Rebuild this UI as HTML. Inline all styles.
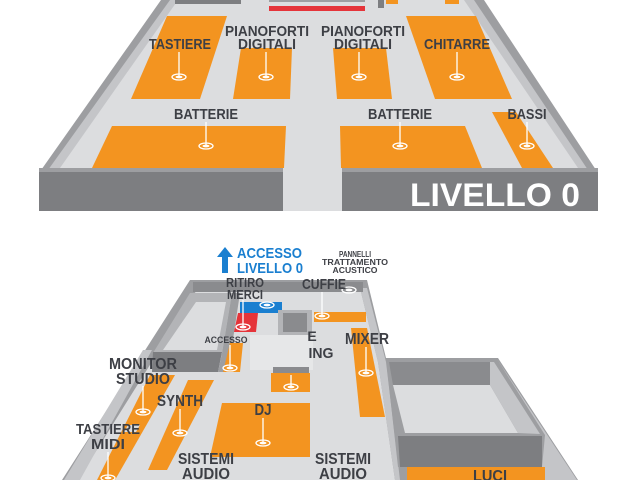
<!DOCTYPE html>
<html><head><meta charset="utf-8"><style>
html,body{margin:0;padding:0;background:#fff;width:640px;height:480px;overflow:hidden}
text{font-family:"Liberation Sans Narrow","Liberation Sans",sans-serif;font-weight:bold}
</style></head><body>
<svg width="640" height="480" viewBox="0 0 640 480" xmlns="http://www.w3.org/2000/svg">
<defs>
<g id="pin"><ellipse cx="0" cy="0" rx="7" ry="3" fill="none" stroke="#fff" stroke-width="1.3"/><ellipse cx="0" cy="0" rx="3.5" ry="1.4" fill="#fff"/></g>
</defs>
<!-- ===== LEVEL 0 (top) ===== -->
<polygon points="161,0 484,0 598,173 39,173" fill="#9d9ea1"/>
<polygon points="170,0 474,0 588,170 48,170" fill="#c4c5c8"/>
<polygon points="178,0 464,0 578,168 60,168" fill="#dcdddf"/>
<rect x="39" y="170" width="244" height="41" fill="#7d7e81"/>
<rect x="342" y="170" width="256" height="41" fill="#7d7e81"/>
<rect x="39" y="168" width="244" height="4" fill="#9d9ea1"/>
<rect x="342" y="168" width="256" height="4" fill="#9d9ea1"/>
<rect x="283" y="168" width="59" height="43" fill="#dcdddf"/>
<rect x="175" y="0" width="66" height="4" fill="#7d7e81"/>
<rect x="269" y="0" width="96" height="2" fill="#9d9ea1"/>
<rect x="269" y="6" width="96" height="5" fill="#e5343a"/>
<rect x="378" y="0" width="6" height="8" fill="#7d7e81"/>
<rect x="386" y="0" width="12" height="4" fill="#f39420"/>
<rect x="445" y="0" width="14" height="4" fill="#f39420"/>
<g fill="#f39420">
<polygon points="167,16 227,16 200,99 131,99"/>
<polygon points="241,48 292,48 290,99 233,99"/>
<polygon points="333,48 386,48 392,99 337,99"/>
<polygon points="406,16 476,16 512,99 435,99"/>
<polygon points="112,126 286,126 284,168 92,168"/>
<polygon points="340,126 465,126 482,168 341,168"/>
<polygon points="492,112 516,112 553,168 522,168"/>
</g>
<g stroke="#fff" stroke-width="1.3">
<line x1="179" y1="52" x2="179" y2="77"/><line x1="266" y1="52" x2="266" y2="77"/>
<line x1="359" y1="52" x2="359" y2="77"/><line x1="457" y1="52" x2="457" y2="77"/>
<line x1="206" y1="122" x2="206" y2="146"/><line x1="400" y1="122" x2="400" y2="146"/>
<line x1="527" y1="122" x2="527" y2="146"/>
</g>
<use href="#pin" x="179" y="77"/><use href="#pin" x="266" y="77"/><use href="#pin" x="359" y="77"/><use href="#pin" x="457" y="77"/>
<use href="#pin" x="206" y="146"/><use href="#pin" x="400" y="146"/><use href="#pin" x="527" y="146"/>
<g fill="#3d3f45" font-size="15" text-anchor="middle">
<text x="180" y="49" textLength="62" lengthAdjust="spacingAndGlyphs">TASTIERE</text>
<text x="267" y="36" textLength="84" lengthAdjust="spacingAndGlyphs">PIANOFORTI</text>
<text x="267" y="49" textLength="58" lengthAdjust="spacingAndGlyphs">DIGITALI</text>
<text x="363" y="36" textLength="84" lengthAdjust="spacingAndGlyphs">PIANOFORTI</text>
<text x="363" y="49" textLength="58" lengthAdjust="spacingAndGlyphs">DIGITALI</text>
<text x="457" y="49" textLength="66" lengthAdjust="spacingAndGlyphs">CHITARRE</text>
<text x="206" y="119" textLength="64" lengthAdjust="spacingAndGlyphs">BATTERIE</text>
<text x="400" y="119" textLength="64" lengthAdjust="spacingAndGlyphs">BATTERIE</text>
<text x="527" y="119" textLength="39" lengthAdjust="spacingAndGlyphs">BASSI</text>
</g>
<text x="410" y="206" font-size="32" fill="#fff" textLength="170" lengthAdjust="spacingAndGlyphs">LIVELLO 0</text>

<!-- ===== LEVEL -1 (bottom) ===== -->
<polygon points="190,280 367,280 386,358 498,358 578,480 62,480" fill="#9d9ea1"/>
<polygon points="198,288 360,288 378,362 395,480 78,480" fill="#dcdddf"/>
<polygon points="360,288 367,288 386,362 400,480 395,480 378,362" fill="#c4c5c8"/>
<polygon points="143,350 152,350 80,480 64,480" fill="#c4c5c8"/>
<polygon points="497,359 577,480 542,480 542,436" fill="#c4c5c8"/>
<rect x="193" y="282" width="170" height="10" fill="#8a8b8e"/>
<!-- left room -->
<polygon points="190,293 232,293 222,353 153,353" fill="#b3b4b7"/>
<polygon points="196,302 226,302 217,350 163,350" fill="#dcdddf"/>
<polygon points="153,352 222,352 218,372 152,372" fill="#7d7e81"/>
<polygon points="232,293 240,293 228,372 218,372 222,353" fill="#9d9ea1"/>
<!-- blue / red -->
<rect x="240" y="302" width="42" height="11" fill="#1a7fd0"/>
<polygon points="238,313 258,313 256,332 234,332" fill="#e5343a"/>
<!-- middle box -->
<rect x="278" y="310" width="34" height="27" fill="#b3b4b7"/>
<rect x="283" y="313" width="24" height="19" fill="#8a8b8e"/>
<rect x="314" y="312" width="52" height="10" fill="#f39420"/>
<rect x="250" y="335" width="63" height="35" fill="#e6e7e8"/>
<rect x="273" y="367" width="36" height="6" fill="#8a8b8e"/>
<g fill="#f39420">
<polygon points="230,343 243,343 240,372 223,372"/>
<rect x="271" y="373" width="39" height="19"/>
<polygon points="351,328 367,328 385,417 360,417"/>
<polygon points="150,375 175,375 115,480 97,480"/>
<polygon points="188,380 214,380 167,470 148,470"/>
<polygon points="222,403 310,403 310,457 210,457"/>
<rect x="407" y="467" width="138" height="13"/>
</g>
<polygon points="128,425 140,425 136,432 124,432" fill="#dcdddf"/>
<!-- annex box -->
<polygon points="386,359 497,359 545,435 542,467 398,467" fill="#9d9ea1"/>
<polygon points="389,362 490,362 490,385 393,385" fill="#8a8b8e"/>
<polygon points="393,385 490,385 518,433 405,433" fill="#dcdddf"/>
<polygon points="490,362 494,362 540,434 518,433 490,385" fill="#c4c5c8"/>
<polygon points="398,436 542,436 542,467 400,467" fill="#7d7e81"/>
<!-- pins -->
<g stroke="#fff" stroke-width="1.3">
<line x1="322" y1="292" x2="322" y2="316"/><line x1="243" y1="300" x2="243" y2="327"/>
<line x1="230" y1="345" x2="230" y2="368"/><line x1="291" y1="375" x2="291" y2="387"/>
<line x1="366" y1="347" x2="366" y2="373"/><line x1="143" y1="386" x2="143" y2="412"/>
<line x1="180" y1="409" x2="180" y2="433"/><line x1="263" y1="418" x2="263" y2="443"/>
<line x1="108" y1="452" x2="108" y2="478"/>
</g>
<use href="#pin" x="322" y="316"/><use href="#pin" x="267" y="305"/><use href="#pin" x="243" y="327"/>
<use href="#pin" x="349" y="290"/><use href="#pin" x="230" y="368"/><use href="#pin" x="291" y="387"/>
<use href="#pin" x="366" y="373"/><use href="#pin" x="143" y="412"/><use href="#pin" x="180" y="433"/>
<use href="#pin" x="263" y="443"/><use href="#pin" x="108" y="478"/>
<polygon points="225,247 233,257 228,257 228,273 222,273 222,257 217,257" fill="#1a7fd0"/>
<g fill="#1a7fd0" font-size="15">
<text x="237" y="258" textLength="65" lengthAdjust="spacingAndGlyphs">ACCESSO</text>
<text x="237" y="273" textLength="66" lengthAdjust="spacingAndGlyphs">LIVELLO 0</text>
</g>
<g fill="#3d3f45" font-size="8" text-anchor="middle">
<text x="355" y="257" textLength="32" lengthAdjust="spacingAndGlyphs">PANNELLI</text>
<text x="355" y="265" textLength="66" lengthAdjust="spacingAndGlyphs">TRATTAMENTO</text>
<text x="355" y="273" textLength="45" lengthAdjust="spacingAndGlyphs">ACUSTICO</text>
</g>
<g fill="#3d3f45" text-anchor="middle">
<text x="245" y="287" font-size="13" textLength="38" lengthAdjust="spacingAndGlyphs">RITIRO</text>
<text x="245" y="299" font-size="13" textLength="36" lengthAdjust="spacingAndGlyphs">MERCI</text>
<text x="324" y="289" font-size="15" textLength="44" lengthAdjust="spacingAndGlyphs">CUFFIE</text>
<text x="226" y="343" font-size="9" textLength="43" lengthAdjust="spacingAndGlyphs">ACCESSO</text>
<text x="312" y="341" font-size="14">E</text>
<text x="321" y="358" font-size="15" textLength="25" lengthAdjust="spacingAndGlyphs">ING</text>
<text x="367" y="344" font-size="16" textLength="44" lengthAdjust="spacingAndGlyphs">MIXER</text>
<text x="143" y="369" font-size="16" textLength="68" lengthAdjust="spacingAndGlyphs">MONITOR</text>
<text x="143" y="384" font-size="16" textLength="54" lengthAdjust="spacingAndGlyphs">STUDIO</text>
<text x="180" y="406" font-size="16" textLength="46" lengthAdjust="spacingAndGlyphs">SYNTH</text>
<text x="263" y="415" font-size="16" textLength="17" lengthAdjust="spacingAndGlyphs">DJ</text>
<text x="108" y="434" font-size="15" textLength="64" lengthAdjust="spacingAndGlyphs">TASTIERE</text>
<text x="108" y="449" font-size="15" textLength="34" lengthAdjust="spacingAndGlyphs">MIDI</text>
<text x="206" y="464" font-size="16" textLength="56" lengthAdjust="spacingAndGlyphs">SISTEMI</text>
<text x="206" y="479" font-size="16" textLength="48" lengthAdjust="spacingAndGlyphs">AUDIO</text>
<text x="343" y="464" font-size="16" textLength="56" lengthAdjust="spacingAndGlyphs">SISTEMI</text>
<text x="343" y="479" font-size="16" textLength="48" lengthAdjust="spacingAndGlyphs">AUDIO</text>
<text x="490" y="481" font-size="16" textLength="34" lengthAdjust="spacingAndGlyphs">LUCI</text>
</g>
</svg>
</body></html>
